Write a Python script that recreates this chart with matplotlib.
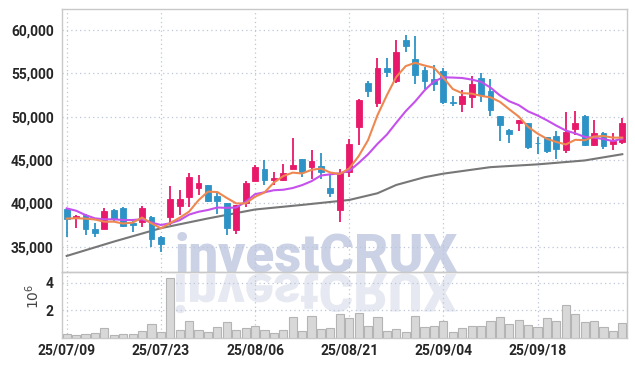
import matplotlib
matplotlib.use("Agg")
import matplotlib.pyplot as plt
from matplotlib.textpath import TextPath
from matplotlib.patches import PathPatch
from matplotlib.font_manager import FontProperties
from matplotlib.transforms import Affine2D, IdentityTransform

dates = ["25/07/09", "25/07/10", "25/07/11", "25/07/14", "25/07/15", "25/07/16", "25/07/17",
         "25/07/18", "25/07/21", "25/07/22", "25/07/23", "25/07/24", "25/07/25", "25/07/28",
         "25/07/29", "25/07/30", "25/07/31", "25/08/01", "25/08/04", "25/08/05", "25/08/06",
         "25/08/07", "25/08/08", "25/08/11", "25/08/12", "25/08/13", "25/08/14", "25/08/18",
         "25/08/19", "25/08/20", "25/08/21", "25/08/22", "25/08/25", "25/08/26", "25/08/27",
         "25/08/28", "25/08/29", "25/09/01", "25/09/02", "25/09/03", "25/09/04", "25/09/05",
         "25/09/08", "25/09/09", "25/09/10", "25/09/11", "25/09/12", "25/09/15", "25/09/16",
         "25/09/17", "25/09/18", "25/09/19", "25/09/22", "25/09/23", "25/09/24", "25/09/25",
         "25/09/26", "25/09/29", "25/09/30", "25/10/01"]

opens = [39400, 38350, 38650, 37050, 37100, 39250, 39450, 37800, 37900, 38400,
         36100, 38400, 39750, 40750, 41750, 42100, 40900, 40000, 36900, 40050,
         42550, 44000, 42750, 42750, 43950, 45150, 44200, 44300, 41800, 39250,
         43650, 48850, 53850, 51550, 55600, 54100, 58850, 56650, 55400, 54350,
         55200, 51650, 51450, 52300, 54400, 53000, 50100, 48500, 49300, 49250,
         47000, 47600, 47800, 46100, 48600, 50100, 46700, 48100, 46850, 47100]
highs = [39450, 38650, 38800, 37700, 39500, 39350, 39550, 38000, 39650, 38550,
         36300, 42000, 41600, 43550, 43300, 42100, 41250, 40000, 39850, 42550,
         44400, 45000, 43650, 44600, 47550, 45150, 46150, 45850, 43350, 43950,
         47400, 52050, 54150, 56800, 56800, 58850, 59400, 59250, 55700, 55900,
         55600, 52400, 53100, 54650, 55000, 54350, 50100, 48550, 49650, 49250,
         47650, 47600, 48400, 50500, 50700, 50200, 49600, 48200, 48100, 49850]
lows = [36100, 37150, 36400, 36100, 37100, 38000, 37250, 36700, 37300, 35000,
        34450, 37550, 38700, 39600, 41000, 40200, 38750, 36350, 36450, 39600,
        42550, 42100, 42100, 42550, 43950, 43100, 42800, 42800, 40700, 37900,
        43100, 46750, 52250, 51100, 54550, 53850, 57500, 53800, 53150, 52900,
        51500, 51200, 50500, 51000, 51700, 50050, 47250, 46950, 48300, 46250,
        45700, 45850, 45100, 45800, 47900, 46600, 46600, 46250, 46200, 46900]
closes = [38200, 38550, 37000, 36550, 39150, 38250, 37450, 37550, 39450, 35850,
          35350, 40550, 40550, 43000, 42400, 40300, 40300, 37150, 39850, 42400,
          44150, 42750, 42900, 43550, 44400, 43650, 44850, 43650, 41250, 43550,
          46850, 51900, 52900, 55600, 55100, 57400, 58100, 54800, 54050, 53800,
          51650, 51600, 52400, 53800, 52500, 50800, 49050, 48050, 49650, 46550,
          46950, 46000, 46250, 48200, 49250, 46700, 48100, 46600, 47250, 49250]
volumes = [0.27, 0.17, 0.26, 0.34, 0.70, 0.19, 0.26, 0.26, 0.47, 0.99,
           0.38, 4.32, 0.55, 1.20, 0.55, 0.37, 0.74, 1.10, 0.52, 0.66,
           0.82, 0.53, 0.30, 0.53, 1.53, 0.46, 1.60, 0.60, 0.70, 1.70,
           1.42, 1.77, 0.83, 1.48, 0.47, 0.60, 0.38, 1.55, 0.74, 0.84,
           1.20, 0.38, 0.67, 0.84, 0.84, 1.20, 1.50, 0.99, 1.26, 0.91,
           0.75, 1.43, 1.20, 2.39, 1.72, 1.13, 1.20, 0.75, 0.46, 1.05]

# moving averages as drawn on the chart
ma5 = [38250, 38300, 38250, 38150, 37890, 37900, 37680, 37790, 38370, 37710,
       37130, 37750, 38350, 39060, 40370, 41360, 41310, 40630, 40000, 40000,
       40770, 41260, 42410, 43150, 43550, 43450, 43870, 44020, 43560, 43390,
       44030, 45440, 47290, 50160, 52470, 54580, 55820, 56200, 55890, 55630,
       54480, 53180, 52700, 52650, 52390, 52220, 51710, 50840, 50010, 48820,
       48050, 47440, 47080, 46790, 47330, 47280, 47700, 47770, 47580, 47580]
ma10 = [39430, 39160, 38660, 38280, 38170, 38170, 38090, 38090, 38170, 37800,
        37515, 37715, 38070, 38715, 39040, 39245, 39530, 39490, 39530, 40185,
        41065, 41285, 41520, 41575, 41775, 42110, 42565, 43215, 43355, 43470,
        43740, 44655, 45655, 46860, 47930, 49305, 50630, 51745, 53025, 54050,
        54530, 54500, 54450, 54270, 54010, 53350, 52445, 51770, 51330, 50605,
        50135, 49575, 48960, 48400, 48075, 47665, 47570, 47425, 47185, 47455]
ma_long_idx = [0, 5, 10, 15, 20, 25, 30, 33, 35, 38, 40, 45, 50, 55, 59]
ma_long = [33950, 35600, 37150, 38270, 39300, 39830, 40400, 41170, 42130, 43020,
           43430, 44180, 44500, 44950, 45670]

UP = "#e8196a"
DOWN = "#2d93c6"
GRID = "#bcc5da"
FRAME = "#c8c8c8"
TICK_FONT = ["Roboto", "DejaVu Sans"]

fig = plt.figure(figsize=(6.35, 3.66), dpi=100)
fig.patch.set_facecolor("white")

left = 62 / 635
right = 627 / 635
ax = fig.add_axes([left, 1 - 272 / 366, right - left, (272 - 9) / 366])
axv = fig.add_axes([left, 1 - 337.5 / 366, right - left, (337.5 - 272) / 366], sharex=ax)
for a in (ax, axv):
    a.set_facecolor("none")
    for s in a.spines.values():
        s.set_color(FRAME)
        s.set_linewidth(1.0)

# watermark with its mirror image, behind both panes
fig.text(316 / 635, 1 - 271 / 366, "investCRUX", ha="center", va="baseline",
         fontsize=38, fontweight="heavy", family="Roboto", color="#cbd2e6", zorder=-5)
fp = FontProperties(family="Roboto", weight="heavy")
tp = TextPath((0, 0), "investCRUX", size=38 * 100 / 72, prop=fp)
ext = tp.get_extents()
tr = Affine2D().translate(-(ext.x0 + ext.x1) / 2, 0).scale(1, -1).translate(316, 366 - 274)
fig.patches.append(PathPatch(tp, transform=tr + IdentityTransform(), facecolor="#e6e9f1",
                             edgecolor="none", zorder=-6, figure=fig))

n = len(closes)
xs = list(range(n))
up_idx = [i for i in xs if closes[i] >= opens[i]]
dn_idx = [i for i in xs if closes[i] < opens[i]]

for idx, col in ((up_idx, UP), (dn_idx, DOWN)):
    ax.vlines(idx, [lows[i] for i in idx], [highs[i] for i in idx], color=col, linewidth=1.3, zorder=3)
    bottoms = [min(opens[i], closes[i]) for i in idx]
    heights = [max(abs(closes[i] - opens[i]), 60) for i in idx]
    ax.bar(idx, heights, bottom=bottoms, width=0.62, color=col, edgecolor=col,
           linewidth=0.6, zorder=4)

ax.plot(ma_long_idx, ma_long, color="#777777", linewidth=1.5, zorder=2)
ax.plot(xs, ma10, color="#c650ec", linewidth=1.5, zorder=5)
ax.plot(xs, ma5, color="#ee8850", linewidth=1.5, zorder=6)

axv.bar(xs, volumes, width=0.86, color="#d8d8d8", edgecolor="#b4b4b4", linewidth=0.8, zorder=3)

ax.set_xlim(-0.5, n - 0.5)
ax.set_ylim(32100, 62400)
axv.set_ylim(0, 4.78)

yt = [35000, 40000, 45000, 50000, 55000, 60000]
ax.set_yticks(yt)
ax.set_yticklabels([f"{v:,}" for v in yt])
axv.set_yticks([2, 4])
axv.set_yticklabels(["2", "4"])
tick_pos = xs[::10]
axv.set_xticks(tick_pos)
axv.set_xticklabels(dates[::10])
ax.tick_params(axis="x", labelbottom=False, length=0)

for a in (ax, axv):
    a.tick_params(axis="both", length=0, pad=6, labelsize=10, labelcolor="#262626")
    for lab in a.get_xticklabels() + a.get_yticklabels():
        lab.set_family(TICK_FONT)
        lab.set_fontweight("bold")
    a.grid(True, color=GRID, linestyle=(0, (1, 2.5)), linewidth=0.9)
    a.set_axisbelow(True)
axv.tick_params(axis="x", pad=4)

fig.text(33 / 635, 1 - 296 / 366, r"$10^6$", rotation=90, ha="center", va="center",
         fontsize=10, color="#444444")

fig.savefig("out.png", dpi=100)
